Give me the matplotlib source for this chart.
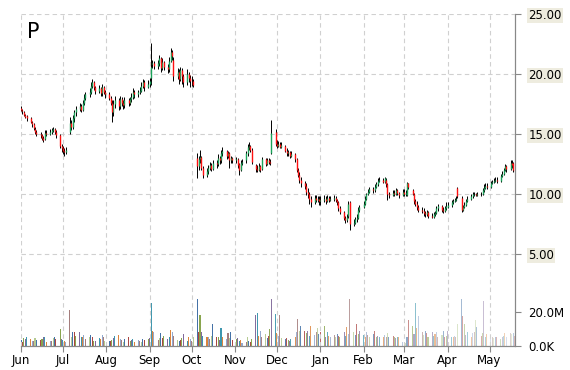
""" P daily candles with volume, Jun-May """

import numpy as np
import pandas as pd
import matplotlib
matplotlib.use('Agg')
import matplotlib.pyplot as plt
import matplotlib.dates as mdates
from matplotlib.colors import to_rgba

ticker = 'P'
start = '2015-06-01'
end = '2016-05-19 05:00'

# one row per month (Jun .. May), business days only
opens = [
    17.2, 17.0, 16.8, 16.6, 16.5, 16.3, 16.0, 15.8, 15.4, 15.2, 15.0, 14.9, 14.7, 14.6, 15.1, 15.0, 15.2, 15.3, 15.4, 15.2, 14.9, 14.0,
    13.8, 13.6, 13.5, 15.2, 15.9, 15.6, 16.3, 16.8, 17.1, 17.3, 17.0, 17.6, 18.0, 18.3, 18.5, 19.0, 19.3, 18.9, 18.6, 18.8, 18.4, 18.9, 18.5,
    18.3, 18.0, 17.6, 16.8, 17.5, 17.8, 17.3, 17.9, 17.6, 17.4, 17.8, 17.6, 17.9, 18.1, 18.5, 18.3, 18.5, 18.6, 19.0, 19.3, 18.9,
    19.2, 19.7, 20.8, 20.9, 20.7, 20.9, 21.3, 20.5, 21.0, 20.6, 20.4, 21.1, 21.8, 21.2, 19.8, 20.2, 19.6, 20.3, 19.8, 19.3, 20.0, 19.7,
    19.4, 19.4, 13.0, 12.3, 12.9, 13.1, 12.2, 11.6, 11.9, 12.2, 12.4, 12.1, 12.6, 12.5, 13.0, 12.8, 13.4, 13.6, 13.2, 13.4, 12.8, 13.0,
    12.8, 12.9, 12.5, 12.0, 12.6, 12.8, 13.4, 13.9, 14.0, 13.7, 12.4, 12.1, 12.0, 12.3, 12.1, 12.9, 12.5, 12.8, 12.7, 13.4, 15.2,
    14.2, 14.0, 14.2, 13.9, 14.0, 13.6, 13.4, 13.5, 13.2, 13.3, 12.9, 12.0, 11.6, 11.2, 10.9, 10.7, 10.2, 10.0, 9.6, 9.3, 9.7, 9.5, 9.6,
    9.4, 9.5, 9.6, 9.4, 9.7, 9.5, 9.6, 9.7, 9.5, 9.3, 8.8, 8.5, 8.0, 7.8, 8.2, 9.3, 7.5, 7.6, 7.9, 8.0, 8.7,
    8.9, 9.2, 9.6, 10.0, 10.2, 10.4, 10.3, 10.6, 10.8, 11.1, 11.2, 11.0, 11.2, 10.8, 10.0, 9.9, 10.1, 10.0, 10.3, 10.1, 9.9,
    10.2, 10.0, 9.9, 10.9, 10.3, 10.0, 9.4, 9.2, 8.9, 8.7, 8.6, 8.4, 8.3, 8.5, 8.2, 8.1, 8.3, 8.4, 8.8, 9.0, 8.7, 8.6, 8.8,
    8.9, 9.1, 9.3, 9.4, 9.5, 10.5, 9.7, 8.7, 8.9, 9.1, 9.4, 9.6, 9.8, 10.0, 10.0, 9.9, 10.0, 10.0, 10.3, 10.5, 10.7,
    10.6, 10.9, 11.0, 11.1, 11.2, 11.1, 11.5, 11.7, 12.0, 12.3, 12.1, 12.6, 12.6, 12.0,
]
highs = [
    17.3, 17.1, 16.9, 16.7, 16.6, 16.4, 16.1, 15.9, 15.6, 15.3, 15.2, 15.0, 14.8, 15.3, 15.3, 15.4, 15.5, 15.6, 15.5, 15.3, 15.0, 14.2,
    14.0, 13.8, 13.9, 16.4, 16.2, 16.6, 17.0, 17.3, 17.6, 17.5, 17.8, 18.3, 18.5, 18.8, 19.3, 19.6, 19.4, 19.0, 19.1, 18.9, 19.2, 19.0, 18.7,
    18.5, 18.2, 17.8, 17.8, 18.2, 18.0, 18.2, 18.1, 17.8, 18.1, 18.0, 18.1, 18.4, 18.8, 18.7, 18.7, 18.9, 19.3, 19.6, 19.5, 19.5,
    19.7, 22.6, 21.2, 21.1, 21.2, 21.6, 21.4, 21.3, 21.1, 20.8, 21.4, 22.2, 22.0, 21.4, 20.5, 20.4, 20.6, 20.5, 20.0, 20.4, 20.2, 19.9,
    19.8, 19.6, 13.4, 13.2, 13.7, 13.2, 12.3, 12.2, 12.4, 12.7, 12.6, 12.8, 12.8, 13.3, 13.2, 13.7, 13.9, 13.7, 13.6, 13.5, 13.2, 13.1,
    13.1, 13.0, 12.6, 12.8, 12.9, 13.6, 14.2, 14.3, 14.1, 13.8, 12.5, 12.4, 12.6, 12.4, 13.1, 13.0, 13.0, 13.0, 12.9, 16.2, 15.4,
    14.5, 14.4, 14.3, 14.3, 14.1, 13.8, 13.7, 13.6, 13.6, 13.4, 13.0, 12.2, 11.8, 11.4, 11.1, 10.9, 10.5, 10.2, 9.8, 9.9, 9.9, 9.8, 9.8,
    9.8, 9.9, 9.8, 9.9, 9.8, 9.8, 9.9, 9.8, 9.6, 9.4, 9.0, 8.6, 8.2, 8.3, 9.4, 9.4, 7.9, 8.1, 8.3, 8.9, 9.1,
    9.4, 9.8, 10.1, 10.4, 10.6, 10.6, 10.8, 11.0, 11.3, 11.4, 11.3, 11.4, 11.3, 10.9, 10.2, 10.3, 10.3, 10.5, 10.4, 10.2, 10.4,
    10.4, 10.3, 11.0, 10.9, 10.4, 10.1, 9.6, 9.4, 9.1, 8.9, 8.8, 8.6, 8.7, 8.6, 8.4, 8.5, 8.6, 9.0, 9.2, 9.1, 8.9, 9.0, 9.3,
    9.3, 9.5, 9.6, 9.7, 9.8, 10.6, 9.8, 9.1, 9.3, 9.6, 9.8, 10.0, 10.2, 10.2, 10.1, 10.2, 10.2, 10.5, 10.8, 10.9, 10.9,
    11.1, 11.2, 11.3, 11.4, 11.4, 11.7, 11.9, 12.2, 12.5, 12.4, 12.8, 12.8, 12.7, 12.2,
]
lows = [
    16.9, 16.7, 16.5, 16.3, 16.1, 15.9, 15.6, 15.3, 15.0, 14.8, 14.7, 14.5, 14.3, 14.5, 14.8, 14.9, 15.0, 15.2, 15.0, 14.7, 13.8, 13.5,
    13.3, 13.2, 13.3, 15.0, 15.3, 15.4, 16.0, 16.5, 16.9, 16.8, 16.9, 17.4, 17.8, 18.1, 18.3, 18.8, 18.7, 18.3, 18.4, 18.2, 18.2, 18.3, 18.0,
    17.8, 17.4, 16.0, 16.5, 17.2, 17.0, 17.1, 17.3, 17.1, 17.2, 17.3, 17.4, 17.7, 17.9, 18.0, 18.1, 18.3, 18.5, 18.8, 18.6, 18.8,
    18.9, 19.1, 20.5, 20.4, 20.4, 20.7, 20.2, 20.3, 20.3, 20.1, 20.2, 21.0, 21.2, 19.4, 19.6, 19.2, 19.4, 19.2, 18.9, 19.1, 19.3, 18.9,
    19.0, 18.9, 11.3, 12.0, 12.6, 12.0, 11.3, 11.4, 11.7, 12.0, 11.9, 12.0, 12.2, 12.3, 12.5, 12.6, 13.2, 12.9, 13.0, 12.2, 12.6, 12.6,
    12.6, 12.2, 11.6, 11.9, 12.4, 12.6, 13.2, 13.7, 13.5, 12.5, 11.8, 11.8, 11.9, 11.8, 12.0, 12.3, 12.4, 12.5, 12.4, 13.3, 14.0,
    13.8, 13.9, 13.8, 13.8, 13.5, 13.2, 13.2, 13.0, 13.1, 12.7, 11.8, 11.4, 10.9, 10.6, 10.4, 9.9, 9.7, 9.2, 8.9, 9.2, 9.3, 9.3, 9.1,
    9.1, 9.3, 9.2, 9.3, 9.3, 9.4, 9.4, 9.3, 9.1, 8.6, 8.3, 7.8, 7.6, 7.7, 8.0, 7.0, 7.3, 7.5, 7.7, 7.9, 8.5,
    8.8, 9.1, 9.5, 9.9, 10.1, 10.1, 10.2, 10.5, 10.7, 11.0, 10.9, 10.9, 10.6, 9.5, 9.7, 9.8, 9.8, 9.9, 9.9, 9.7, 9.8,
    9.8, 9.8, 9.8, 10.4, 9.9, 9.2, 9.0, 8.7, 8.5, 8.4, 8.2, 8.1, 8.2, 8.0, 8.0, 8.0, 8.2, 8.3, 8.6, 8.5, 8.4, 8.5, 8.7,
    8.8, 8.9, 9.2, 9.3, 9.4, 9.7, 8.5, 8.6, 8.8, 9.0, 9.3, 9.5, 9.7, 9.8, 9.8, 9.8, 9.8, 9.9, 10.2, 10.4, 10.4,
    10.5, 10.8, 10.9, 11.0, 10.9, 11.0, 11.4, 11.6, 11.9, 11.8, 12.0, 12.2, 11.8, 11.7,
]
closes = [
    17.0, 16.9, 16.6, 16.4, 16.3, 16.0, 15.8, 15.5, 15.2, 15.0, 14.9, 14.7, 14.5, 15.1, 15.0, 15.2, 15.3, 15.4, 15.2, 14.9, 14.0, 13.8,
    13.6, 13.5, 13.7, 15.9, 15.6, 16.3, 16.8, 17.1, 17.3, 17.0, 17.6, 18.0, 18.3, 18.5, 19.0, 19.3, 18.9, 18.6, 18.8, 18.4, 18.9, 18.5, 18.3,
    18.0, 17.6, 16.8, 17.5, 17.8, 17.3, 17.9, 17.6, 17.4, 17.8, 17.6, 17.9, 18.1, 18.5, 18.3, 18.5, 18.6, 19.0, 19.3, 18.9, 19.2,
    19.4, 20.6, 20.9, 20.7, 20.9, 21.3, 20.5, 21.0, 20.6, 20.4, 21.1, 21.8, 21.5, 19.8, 20.2, 19.6, 20.3, 19.8, 19.3, 20.0, 19.7, 19.4,
    19.4, 19.1, 12.3, 12.9, 13.1, 12.2, 11.6, 11.9, 12.2, 12.4, 12.1, 12.6, 12.5, 13.0, 12.8, 13.4, 13.6, 13.2, 13.4, 12.8, 13.0, 12.8,
    12.9, 12.4, 12.0, 12.6, 12.7, 13.4, 13.9, 14.0, 13.7, 12.7, 12.1, 12.0, 12.3, 12.0, 12.9, 12.5, 12.8, 12.7, 12.6, 15.1, 14.2,
    14.0, 14.2, 13.9, 14.1, 13.6, 13.4, 13.5, 13.2, 13.3, 12.9, 12.0, 11.6, 11.2, 10.9, 10.7, 10.2, 10.0, 9.6, 9.3, 9.7, 9.5, 9.6, 9.4,
    9.5, 9.6, 9.4, 9.7, 9.5, 9.6, 9.7, 9.5, 9.3, 8.8, 8.5, 8.0, 7.8, 8.1, 9.2, 7.5, 7.6, 7.9, 8.0, 8.7, 8.9,
    9.2, 9.6, 10.0, 10.2, 10.4, 10.3, 10.6, 10.8, 11.1, 11.2, 11.0, 11.3, 10.8, 10.0, 9.9, 10.1, 10.0, 10.3, 10.1, 9.9, 10.2,
    10.0, 10.1, 10.9, 10.6, 10.0, 9.4, 9.2, 8.9, 8.7, 8.6, 8.4, 8.3, 8.5, 8.2, 8.1, 8.3, 8.4, 8.8, 9.0, 8.7, 8.6, 8.8, 9.0,
    9.1, 9.3, 9.4, 9.5, 9.6, 9.8, 8.7, 8.9, 9.1, 9.4, 9.6, 9.8, 10.0, 10.0, 9.9, 10.0, 10.0, 10.3, 10.5, 10.7, 10.6,
    10.9, 11.0, 11.1, 11.2, 11.1, 11.5, 11.7, 12.0, 12.3, 12.1, 12.6, 12.4, 12.0, 11.9,
]
# volume in millions of shares
volumes = [
    3.5, 2.5, 4.8, 4.0, 5.0, 4.2, 3.0, 3.0, 4.5, 3.5, 3.5, 4.2, 5.0, 5.0, 2.5, 2.8, 3.2, 4.5, 5.0, 4.2, 10.0, 4.0,
    3.5, 3.0, 2.5, 21.0, 5.5, 8.0, 8.0, 6.0, 8.0, 5.5, 5.0, 6.5, 4.0, 5.0, 6.5, 5.0, 3.0, 3.0, 4.5, 4.0, 6.5, 5.0, 3.0,
    3.0, 2.8, 3.5, 4.5, 6.0, 6.5, 4.0, 3.5, 2.5, 4.0, 5.0, 3.0, 3.5, 4.0, 2.5, 3.5, 2.8, 2.5, 4.0, 3.5, 4.0,
    4.5, 25.0, 9.0, 8.5, 3.5, 4.5, 7.5, 4.5, 6.0, 4.0, 5.0, 9.5, 8.5, 6.0, 3.5, 3.0, 3.5, 4.5, 7.0, 3.0, 5.0, 4.0,
    3.0, 5.5, 27.5, 8.0, 18.0, 8.5, 6.0, 5.0, 5.5, 4.0, 6.0, 13.0, 5.0, 5.5, 3.5, 10.5, 5.0, 4.0, 7.5, 4.5, 8.0, 3.5,
    4.0, 4.5, 3.0, 3.5, 2.0, 2.5, 5.0, 3.0, 2.5, 4.0, 18.5, 19.5, 6.0, 9.0, 5.0, 7.0, 4.5, 6.0, 10.0, 27.5, 19.0,
    7.8, 6.0, 18.0, 4.5, 4.0, 4.5, 3.5, 3.0, 4.0, 5.5, 8.0, 16.0, 9.0, 12.0, 9.0, 7.5, 9.0, 6.0, 12.0, 6.5, 8.0, 10.5, 7.0,
    8.5, 12.0, 5.5, 8.0, 6.0, 5.0, 6.5, 5.5, 7.0, 6.0, 5.5, 8.5, 6.0, 11.0, 7.0, 27.5, 8.5, 6.5, 13.0, 7.0, 9.0,
    6.5, 5.0, 8.0, 6.5, 5.5, 7.0, 9.0, 5.5, 6.0, 5.0, 5.5, 6.5, 5.0, 7.5, 5.5, 6.0, 5.0, 4.5, 5.5, 5.0, 2.5,
    2.5, 2.0, 5.0, 15.0, 11.5, 7.0, 25.0, 10.5, 17.5, 8.0, 6.5, 9.0, 7.5, 5.5, 8.5, 6.0, 7.0, 8.5, 5.0, 6.5, 9.0, 5.5, 6.0,
    9.0, 5.5, 5.0, 6.0, 5.5, 13.0, 27.5, 17.5, 13.0, 6.5, 8.5, 5.0, 7.5, 8.0, 15.0, 11.0, 6.0, 7.5, 26.5, 5.5, 7.0,
    5.0, 5.5, 4.5, 5.0, 5.5, 4.0, 5.5, 6.0, 7.5, 5.0, 7.5, 7.0, 7.5, 6.0,
]

price_ticks = [5, 10, 15, 20, 25]
price_labels = ['5.00', '10.00', '15.00', '20.00', '25.00']
vol_ticks = [0, 20e6]
vol_labels = ['0.0K', '20.0M']

palette = ['#4572A7', '#AA4643', '#89A54E', '#80699B', '#3D96AE',
           '#DB843D', '#92A8CD', '#A47D7C', '#B5CA92']

o = np.array(opens)
h = np.array(highs)
l = np.array(lows)
c = np.array(closes)
v = np.array(volumes) * 1e6
dates = pd.bdate_range(start, periods=len(c))
x = mdates.date2num(dates)

fig = plt.figure(figsize=(5.7, 3.7), dpi=100)
ax_vol = fig.add_axes([21 / 570, 24 / 370, 494 / 570, 332 / 370])
ax = ax_vol.twinx()

# volume bars: colours cycle, full strength until winter then fading
n = len(v)
k = int(n * 0.45)
alphas = np.concatenate([np.ones(k), np.linspace(1.0, 0.35, n - k)])
cols = [to_rgba(palette[i % len(palette)], alphas[i]) for i in range(n)]
ax_vol.bar(x, v, width=0.75, color=cols, linewidth=0)
ax_vol.set_ylim(0, 195e6)
ax_vol.yaxis.tick_right()
ax_vol.set_yticks(vol_ticks)
ax_vol.set_yticklabels(vol_labels)

# candles
up = c >= o
ax.vlines(x, l, h, color='black', linewidth=0.7)
ax.vlines(x[up], o[up], c[up], color='#1aa35a', linewidth=1.0)
ax.vlines(x[~up], o[~up], c[~up], color='#ff1010', linewidth=1.0)
ax.set_ylim(-2.667, 25)
ax.set_yticks(price_ticks)
ax.set_yticklabels(price_labels)
for lbl in ax.get_yticklabels():
    lbl.set_bbox(dict(facecolor='#eeecdf', edgecolor='none', pad=1.2))

ax.set_xlim(mdates.date2num(pd.Timestamp(start)), mdates.date2num(pd.Timestamp(end)))
ax_vol.xaxis.set_major_locator(mdates.MonthLocator())
ax_vol.xaxis.set_major_formatter(mdates.DateFormatter('%b'))

grid_kw = dict(color='#d0d0d0', linestyle=(0, (4, 3)), linewidth=0.8)
ax_vol.grid(axis='x', **grid_kw)
ax.grid(axis='y', **grid_kw)

for a in (ax, ax_vol):
    for s in ('top', 'left'):
        a.spines[s].set_visible(False)
    a.spines['right'].set_color('#888888')
    a.spines['bottom'].set_color('#888888')
    a.tick_params(axis='y', length=4.5, width=0.8, color='#888888',
                  labelsize=8.5, pad=5, labelcolor='black')
ax_vol.tick_params(axis='x', length=4, width=0.8, color='#888888',
                   labelsize=8.5, pad=2, labelcolor='black')

ax.text(0.012, 0.975, ticker, transform=ax.transAxes, fontsize=15,
        va='top', ha='left', color='black')

fig.savefig('out.png', dpi=100)
